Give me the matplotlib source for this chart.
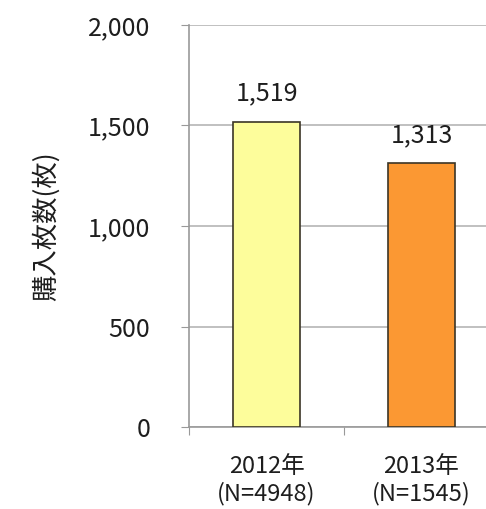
import matplotlib.pyplot as plt
import matplotlib.ticker as mticker

plt.rcParams['font.family'] = ['Noto Sans CJK JP', 'DejaVu Sans']

# Purchase counts per year
years = ["2012年", "2013年"]
samples = ["(N=4948)", "(N=1545)"]
counts = [1519, 1313]
colors = ["#FDFD9B", "#FB9833"]

fig = plt.figure(figsize=(4.86, 5.09), dpi=100)
ax = fig.add_axes([0.389, 0.161, 0.611, 0.79])

x = list(range(len(counts)))
ax.bar(x, counts, width=0.43, color=colors, edgecolor="#3b3526", linewidth=1.2, zorder=3)

for xi, v in zip(x, counts):
    ax.annotate(f"{v:,}", (xi, v), xytext=(0, 11), textcoords="offset points",
                ha="center", va="bottom", fontsize=18, color="#1e1e1e")

ax.set_xlim(-0.5, 1.416)
ax.set_ylim(0, 2000)
ax.yaxis.set_major_locator(mticker.MultipleLocator(500))
ax.yaxis.set_major_formatter(mticker.StrMethodFormatter("{x:,.0f}"))
ax.grid(axis="y", color="#b5b5b5", linewidth=1.2, zorder=0)

# category ticks sit between bars
ax.set_xticks([-0.5, 0.5])
ax.set_xticklabels([])
ax.set_xticks(x, minor=True)
ax.set_xticklabels([f"{y}\n{s}" for y, s in zip(years, samples)], minor=True,
                   fontsize=17, color="#1e1e1e", linespacing=1.2)
ax.tick_params(axis="x", which="minor", length=0, pad=20)
ax.tick_params(axis="x", which="major", length=6, color="#999999", direction="out")
ax.tick_params(axis="y", length=6, color="#999999", labelsize=18,
               labelcolor="#1e1e1e", pad=22)

for s in ("top", "right"):
    ax.spines[s].set_visible(False)
for s in ("left", "bottom"):
    ax.spines[s].set_color("#999999")
    ax.spines[s].set_linewidth(1.2)

ax.set_ylabel("購入枚数(枚)", fontsize=19, color="#1e1e1e", labelpad=20)

fig.savefig("out.png", dpi=100)
